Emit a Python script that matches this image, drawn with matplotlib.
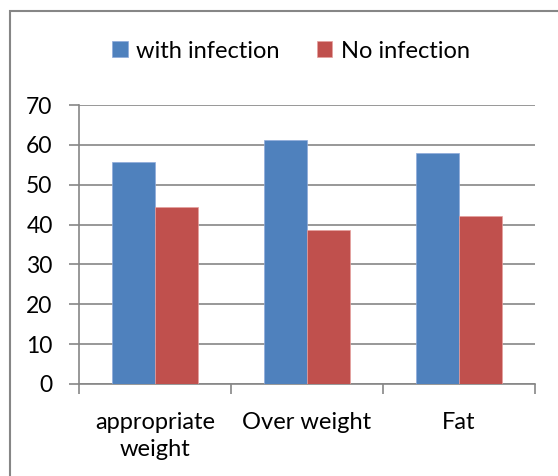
import matplotlib.pyplot as plt
from matplotlib.patches import Rectangle
import numpy as np

plt.rcParams['font.family'] = ['Lato', 'DejaVu Sans']

categories = ['appropriate\nweight', 'Over weight', 'Fat']
with_infection = [55.6, 61.3, 57.9]
no_infection = [44.4, 38.7, 42.1]
series_names = ['with infection', 'No infection']
yticks = [0, 10, 20, 30, 40, 50, 60, 70]

blue = '#4F81BD'
red = '#C0504D'
gray = '#868686'

fig = plt.figure(figsize=(5.58, 4.76), dpi=100)
ax = fig.add_axes([79/558, 92/476, 456/558, 279/476])

x = np.arange(len(categories))
w = 0.2857
ax.bar(x - w/2, with_infection, w, color=blue, edgecolor='#8EAADB', linewidth=0.5, label=series_names[0], zorder=3)
ax.bar(x + w/2, no_infection, w, color=red, edgecolor='#E6A09E', linewidth=0.5, label=series_names[1], zorder=3)

ax.set_xlim(-0.5, len(categories) - 0.5)
ax.set_ylim(0, 70)
ax.set_yticks(yticks)
ax.yaxis.grid(True, color=gray, linewidth=1.2, zorder=0)
ax.set_axisbelow(True)

ax.set_xticks(x)
ax.set_xticklabels(categories, fontsize=17, linespacing=1.35)
ax.set_xticks(np.arange(-0.5, len(categories), 1), minor=True)
ax.tick_params(axis='x', which='major', length=0, pad=20)
ax.tick_params(axis='x', which='minor', length=7, width=1.2, color=gray)
ax.tick_params(axis='y', length=7, width=1.2, color=gray, labelsize=16.5, pad=12)

for s in ['top', 'right']:
    ax.spines[s].set_visible(False)
for s in ['left', 'bottom']:
    ax.spines[s].set_color(gray)
    ax.spines[s].set_linewidth(1.2)

ax.legend(loc='center', bbox_to_anchor=(291/558, 1 - 51/476), bbox_transform=fig.transFigure,
          ncol=2, frameon=False, fontsize=17, handlelength=0.65, handleheight=0.65,
          handletextpad=0.35, columnspacing=1.6)

fig.add_artist(Rectangle((10/558, -0.1), 1.2, 1 - 11/476 + 0.1, transform=fig.transFigure,
                         fill=False, edgecolor=gray, linewidth=1.5))

fig.savefig('out.png', dpi=100)
